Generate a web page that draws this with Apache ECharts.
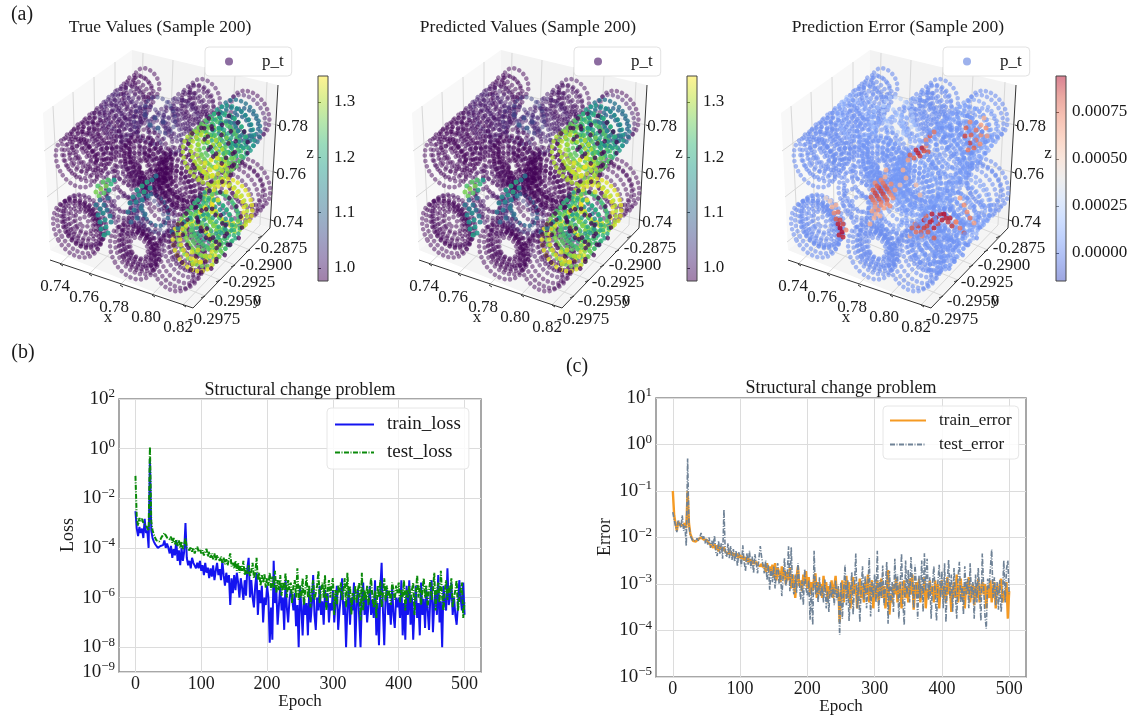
<!DOCTYPE html>
<html>
<head>
<meta charset="utf-8">
<title>Structural change problem</title>
<script src="https://cdn.jsdelivr.net/npm/echarts@6/dist/echarts.min.js"></script>
<style>
  html, body { margin: 0; background: #fff; }
  #chart { width: 1135px; height: 719px; }
</style>
</head>
<body>
<div id="chart"></div>
<script>
// epochs of the two training curves
var epochText = "0 2 4 6 8 10 12 14 16 18 20 22 24 26 28 30 32 34 36 38 40 42 44 46 48 50 52 54 56 58 60 62 64 66 68 70 72 74 76 78 80 82 84 86 88 90 92 94 96 98 100 102 104 106 108 110 112 114 116 118 120 122 124 126 128 130 132 134 136 138 140 142 144 146 148 150 152 154 156 158 160 162 164 166 168 170 172 174 176 178 180 182 184 186 188 190 192 194 196 198 200 202 204 206 208 210 212 214 216 218 220 222 224 226 228 230 232 234 236 238 240 242 244 246 248 250 252 254 256 258 260 262 264 266 268 270 272 274 276 278 280 282 284 286 288 290 292 294 296 298 300 302 304 306 308 310 312 314 316 318 320 322 324 326 328 330 332 334 336 338 340 342 344 346 348 350 352 354 356 358 360 362 364 366 368 370 372 374 376 378 380 382 384 386 388 390 392 394 396 398 400 402 404 406 408 410 412 414 416 418 420 422 424 426 428 430 432 434 436 438 440 442 444 446 448 450 452 454 456 458 460 462 464 466 468 470 472 474 476 478 480 482 484 486 488 490 492 494 496 498 500";
var epochs = epochText.split(" ").map(Number);

var trainLoss = [3e-3,6e-4,3e-4,7e-4,4e-4,6e-4,2.5e-4,1.5e-3,4e-4,5e-4,1e-4,4e-1,5e-4,2.5e-4,1.8e-4,1.4e-4,1.2e-4,1e-4,1e-4,1.2e-4,1.4e-4,1.3e-4,2e-4,1e-4,1.5e-4,
  1e-4,6e-5,1.2e-4,4e-5,9e-5,5e-5,2e-4,3e-5,8e-5,2e-5,1e-4,3e-5,7e-5,1e-3,4e-5,2e-5,3e-5,1.5e-5,4e-5,2.5e-5,3e-5,1.5e-5,2.5e-5,1.5e-5,3e-5,
  1.2e-5,2e-5,8e-6,2.5e-5,1e-5,1.6e-5,6e-6,1.5e-5,7e-6,2e-5,5e-6,1.2e-5,2.5e-5,8e-6,1.4e-5,5e-6,3e-5,8e-6,3e-6,1e-5,4e-6,8e-6,5e-7,6e-6,1.5e-6,
  8e-6,2e-6,1e-5,4e-6,1e-6,6e-6,2.5e-6,8e-7,5e-6,1.2e-6,1.5e-5,4e-5,1e-6,5e-6,1e-6,4e-7,3e-6,1e-5,2e-7,2e-6,6e-7,3e-6,1e-7,1e-6,5e-7,
  3e-6,1e-6,1.5e-8,4e-7,2e-8,3e-5,6e-7,2e-6,8e-8,5e-7,3e-6,3e-7,1e-6,5e-8,5e-6,4e-7,1e-7,8e-7,2e-6,1e-6,3e-7,1.5e-6,7e-8,5e-7,1e-8,
  3e-6,4e-7,3e-8,1e-6,2e-7,6e-7,3e-8,2e-6,1e-7,5e-7,8e-6,2e-7,5e-8,1e-6,3e-7,3e-6,2e-7,7e-7,8e-8,2e-6,4e-7,1.5e-6,1e-7,6e-7,3e-7,
  2e-6,1e-7,6e-7,3e-6,5e-8,3e-7,1e-6,6e-6,2e-7,7e-7,1e-8,4e-7,2e-6,8e-8,1e-6,3e-7,4e-6,1e-8,5e-7,2e-6,1.5e-7,1e-8,8e-7,4e-6,2e-7,
  1e-6,1e-7,5e-7,3e-6,2e-7,8e-7,1.5e-7,5e-6,3e-8,6e-7,1.2e-8,2e-6,2.5e-5,3e-7,1.2e-8,1e-6,2e-6,2e-7,6e-7,8e-8,3e-6,2e-7,6e-8,1e-6,4e-7,
  1e-6,1.5e-7,5e-6,3e-8,6e-7,2e-8,3e-6,2e-7,5e-6,8e-8,1e-6,2e-8,4e-7,3e-6,1.5e-7,6e-7,3e-8,4e-6,2e-7,9e-7,6e-8,2e-6,3e-7,5e-8,1e-6,
  5e-6,4e-8,6e-7,2e-6,2e-7,8e-6,1e-7,7e-7,1e-8,3e-6,6e-7,3e-7,1.5e-5,5e-7,1e-6,4e-6,2e-7,1e-6,2e-7,8e-8,5e-7,5e-6,1e-6,3e-7,4e-6,2e-7];

var testLoss = [8e-2,1.5e-3,8e-4,1.6e-3,1.2e-3,1.5e-3,1e-3,1.2e-3,8e-4,9e-4,5e-4,1.2,1.2e-3,5e-4,3.5e-4,2.5e-4,2e-4,1.7e-4,1.8e-4,2.2e-4,2.8e-4,3e-4,4e-4,3.2e-4,2.6e-4,
  3e-4,2.2e-4,2.8e-4,1.6e-4,2.5e-4,1.4e-4,2.2e-4,1.2e-4,2e-4,1e-4,1.8e-4,9e-5,1.4e-4,2.5e-4,1e-4,1.2e-4,8e-5,1.1e-4,7e-5,1e-4,6e-5,9e-5,1.1e-4,7e-5,9e-5,
  6e-5,8e-5,5e-5,7e-5,9e-5,4.5e-5,7e-5,4e-5,6e-5,3.5e-5,6e-5,3e-5,5e-5,6e-5,3e-5,4.5e-5,2.5e-5,4e-5,2.2e-5,3.5e-5,2e-5,3.5e-5,6e-5,1.8e-5,2.5e-5,
  1.5e-5,3e-5,1.2e-5,2.5e-5,1e-5,2e-5,1.2e-5,3e-5,8e-6,1.5e-5,9e-6,2e-5,7e-6,1.2e-5,2.5e-5,6e-6,1e-5,4e-5,5e-6,1e-5,3e-6,8e-6,4e-6,9e-6,2.5e-6,
  6e-6,3e-6,1e-5,2e-6,7e-6,2.5e-6,1.2e-5,1.5e-6,5e-6,2e-6,8e-6,1.2e-6,4e-6,2e-6,1e-5,1e-6,5e-6,2e-6,4e-6,6e-7,3e-6,5e-6,1e-6,1.5e-5,8e-7,
  3e-6,1e-6,6e-6,5e-7,2e-6,8e-6,1e-6,3e-6,4e-7,2e-6,5e-6,8e-7,1.5e-6,3e-6,1.2e-5,6e-7,2e-6,4e-6,1e-6,8e-6,3e-7,2e-6,5e-6,1e-6,3e-6,
  6e-6,2e-7,2e-6,5e-7,3e-6,1.5e-6,4e-6,8e-7,2e-6,6e-6,4e-7,1e-5,1e-6,3e-6,2e-7,1.5e-6,8e-7,3e-6,6e-7,2e-6,4e-6,1.2e-7,1e-5,3e-7,2e-6,
  8e-7,3e-6,5e-7,2e-6,6e-6,1e-6,4e-7,2e-6,1.5e-7,3e-6,1e-6,5e-6,4e-7,1.5e-6,6e-6,7e-7,3e-6,1e-6,2e-6,5e-7,4e-6,2e-6,8e-7,3e-6,1.5e-6,
  4e-6,6e-7,2e-6,1e-6,5e-6,3e-7,2e-6,1e-6,3e-6,6e-7,2e-6,4e-6,2e-7,1.5e-6,8e-6,1e-6,3e-6,5e-7,2e-6,6e-6,1e-6,3e-6,4e-7,2e-6,5e-6,
  8e-7,2e-6,1e-5,3e-7,2e-6,4e-6,6e-7,1.2e-5,1e-6,3e-7,2e-6,5e-6,8e-7,3e-6,1.5e-6,6e-6,4e-7,1e-6,2e-6,5e-6,3e-7,8e-7,2e-6,4e-6,1.5e-7,7e-7];

var trainError = [.1,.03,.02,.014,.022,.019,.02,.018,.019,.02,.016,.1,.02,.012,.01,.0085,.008,.0082,.0085,.0092,.0095,.01,.0095,.009,.0085,
  .009,.008,.0085,.007,.0075,.006,.0072,.0055,.0068,.005,.0064,.0058,.0052,.0062,.005,.0055,.0044,.0052,.0042,.0048,.004,.0046,.0038,.0045,.0036,
  .0042,.0035,.004,.0032,.0038,.003,.0036,.0029,.0034,.0027,.0032,.0027,.003,.0026,.0028,.0024,.0027,.0023,.0026,.0018,.0028,.0019,.0024,.0015,.0026,
  .0014,.0028,.0012,.0022,.0018,.0011,.0024,.0013,.002,.001,.0018,.0012,.0022,.0008,.0016,.0011,.0005,.0014,.0024,.0009,.0012,.0007,.0016,.001,.0019,
  .0008,.0014,.0006,.0011,.0007,.0013,.0017,.0005,.0011,.0006,.001,.0005,.0015,.0007,.0011,.0004,.0009,.0006,.0012,.0005,.0009,.0015,.0005,.0008,.00015,
  .0006,.0012,.0004,.0009,.0015,.0005,.0011,.0003,.0008,.0014,.0006,.001,.0003,.0007,.0013,.0005,.0009,.0004,.0011,.0006,.0016,.0004,.0008,.0012,.0003,
  .0009,.0005,.0012,.0004,.0008,.0013,.0005,.0009,.0003,.0007,.002,.00022,.0006,.0004,.001,.0006,.0014,.0004,.0008,.0011,.0003,.0007,.0012,.0005,.0009,
  .0004,.0013,.0006,.0016,.00028,.0007,.0011,.0005,.0013,.0004,.0009,.0006,.0014,.0003,.0008,.0005,.0012,.0006,.0009,.0004,.0012,.0005,.001,.0003,.0008,
  .0012,.0005,.0009,.0004,.0014,.0006,.0009,.00025,.0007,.0011,.0005,.0016,.0004,.0008,.0013,.0005,.0009,.0003,.0011,.0006,.0014,.0004,.0008,.001,.00035,
  .0009,.0005,.0013,.0004,.0008,.0011,.0006,.001,.0003,.0009,.0005,.0012,.0004,.0008,.0011,.0003,.0009,.0006,.001,.0013,.0004,.0007,.00045,.0011,.00018,.0007];

var testError = [.035,.024,.018,.013,.024,.02,.016,.03,.014,.018,.0065,.5,.018,.011,.0095,.0085,.0078,.0085,.0095,.0085,.01,.0125,.0095,.0105,.0075,
  .0095,.007,.01,.006,.0085,.0065,.011,.0048,.004,.0085,.0045,.0075,.0035,.04,.0045,.0038,.0075,.0036,.0065,.0033,.0056,.003,.0052,.0024,.0048,
  .0038,.0024,.0068,.003,.0019,.0046,.0026,.0052,.0022,.0039,.0017,.0044,.0028,.0017,.0036,.0065,.0038,.0026,.0017,.0032,.0012,.0026,.00075,.0021,.0011,
  .0024,.0008,.0018,.0028,.001,.0017,.00055,.0014,.0036,.0009,.0015,.0065,.0007,.0062,.0009,.0006,.0016,.00065,.0028,.0011,.00045,.0012,.00035,.0021,.0008,
  .00055,.0012,.00017,.00085,.00013,.0052,.0006,.0011,.0004,.0014,.00055,.0009,.0004,.00125,.0003,.0007,.00025,.0011,.0005,.00085,.00035,.0012,.00045,.0009,.00008,
  .0011,.00018,.0007,.0026,.00035,.0012,.00016,.0006,.0018,.00022,.0009,.0045,.0003,.0011,.00015,.0008,.0024,.00045,.0015,.0003,.0009,.0036,.0002,.0011,.0005,
  .0016,.0004,.0052,.00025,.0012,.0005,.0025,.00035,.0009,.003,.00014,.0019,.0004,.0011,.00025,.0035,.0007,.0016,.00018,.0009,.0045,.0004,.00013,.0032,.0006,
  .002,.0004,.0038,.0012,.0003,.0026,.0009,.00018,.0015,.0005,.0032,.00025,.0046,.0007,.0035,.00045,.0014,.00018,.001,.0024,.0006,.00016,.0011,.0026,.0005,
  .0019,.0003,.0028,.00015,.0011,.0033,.0005,.0016,.00025,.0022,.0006,.00018,.0014,.003,.0004,.0009,.00022,.0024,.0006,.0013,.0003,.0028,.0005,.0011,.00018,
  .0016,.0004,.0022,.0007,.00016,.0045,.0009,.0002,.00011,.0013,.0008,.0021,.0055,.0005,.0014,.00035,.0011,.00028,.0012,.00025,.0006,.0032,.0004,.0021,.0032,.0006];

var lossTicks = [1e-9, 1e-8, 1e-6, 1e-4, 1e-2, 1, 100];
var errorTicks = [1e-5, 1e-4, 1e-3, 1e-2, 1e-1, 1, 10];
var epochTicks = [0, 100, 200, 300, 400, 500];

// rings of the point cloud, read in the projected plane: x, y, radius, p_t, error
var rings = [
  // back tubes
  [205,97,17,.99,2e-5],[198,104,18,.99,3e-5],[190,112,19,1.0,3e-5],[182,120,20,1.02,6e-5],[172,130,21,1.0,3e-5],
  [201,100,14,.99,2e-5],[194,108,15,.99,2e-5],[186,116,15,1.0,3e-5],[177,125,16,1.0,4e-5],[201,100,9,.99,1e-5],[194,108,10,.99,2e-5],[186,116,10,1.0,2e-5],[177,125,10,1.0,3e-5],
  [147,83,14,.98,2e-5],[140,92,16,.98,2e-5],[131,104,18,1.0,3e-5],[122,115,20,1.02,2e-4],[112,126,21,.99,5e-5],
  [102,136,22,.98,3e-5],[92,146,23,.98,3e-5],[83,156,24,.98,2e-5],[77,162,24,.98,2e-5],
  [142,88,11,.98,2e-5],[135,98,13,.98,2e-5],[127,110,15,1.0,2e-5],[117,120,16,1.0,1e-4],[107,131,17,.99,3e-5],[97,141,18,.98,2e-5],[88,151,18,.98,2e-5],[80,159,18,.98,2e-5],
  [80,159,12,.98,2e-5],[87,152,12,.98,2e-5],[97,141,12,.98,2e-5],[107,131,11,.98,2e-5],[117,120,10,1.0,5e-5],[127,110,9,1.0,2e-5],
  [136,98,17,.98,2e-5],[127,109,19,1.0,3e-5],[117,120,20,1.0,1e-4],[107,131,21,.99,3e-5],[97,141,22,.98,2e-5],[88,151,23,.98,2e-5],
  [150,125,18,1.03,2e-4],[160,115,17,1.05,2.5e-4],[165,135,19,1.02,1.5e-4],[155,140,20,1.0,1e-4],[135,135,18,.99,5e-5],
  [250,114,22,.98,2e-5],[246,118,22,1.0,3e-5],[246,123,14,1.1,4e-5],[240,128,12,1.1,5e-5],
  [249,184,24,.98,2e-5],[243,189,25,.98,2e-5],[237,194,25,.98,3e-5],[231,199,25,.99,5e-5],[246,186,19,.98,2e-5],
  // middle of the block
  [150,155,24,.98,4e-5],[146,162,25,.98,4e-5],[143,167,25,.98,4e-5],[143,167,20,.98,4e-5],[143,167,15,.98,3e-5],[143,168,10,.98,3e-5],[130,180,18,.98,3e-5],[128,170,15,.98,3e-5],
  [145,165,23,.98,4e-5],[144,166,18,.98,4e-5],[144,167,13,.98,4e-5],[144,167,7,.98,3e-5],[148,160,21,.98,4e-5],
  [120,195,22,.99,2e-5],[125,190,22,.99,3e-5],[120,195,16,.99,2e-5],[118,205,15,.99,2e-5],[128,215,18,1.0,3e-5],[150,215,22,1.0,4e-5],[155,210,22,1.02,5e-5],[150,215,16,1.05,6e-5],[155,210,15,1.1,8e-5],
  [185,175,26,.98,5e-5],[181,181,26,.98,5e-5],[177,187,26,.98,7e-5],[177,187,21,.98,6e-5],[177,187,16,.98,5e-5],[177,187,11,.98,4e-5],[177,187,6,.98,4e-5],[165,200,22,.98,4e-5],[160,190,20,.98,4e-5],[155,175,18,.98,4e-5],[160,165,15,.98,4e-5],
  [179,184,24,.98,6e-5],[178,186,19,.98,5e-5],[178,186,14,.98,5e-5],[178,187,9,.98,4e-5],[183,178,22,.98,5e-5],[174,192,22,.98,5e-5],
  // upper hot tube
  [240,124,23,1.12,6e-5],[233,131,24,1.18,8e-5],[226,138,24,1.22,8e-5],[219,145,25,1.25,7e-5],[212,152,25,1.27,6e-5],[205,158,25,1.3,6e-5],
  [236,127,18,1.14,6e-5],[229,134,18,1.2,6e-5],[222,141,18,1.24,6e-5],[215,148,19,1.27,5e-5],[208,155,19,1.31,5e-5],[229,134,12,1.15,5e-5],[222,141,12,1.2,5e-5],[215,148,13,1.25,5e-5],[208,155,13,1.3,4e-5],
  // front left disks
  [77,229,27,.98,2e-5],[80,226,26,.98,2e-5],[83,222,25,.98,2e-5],[85,220,24,.99,3e-5],[82,224,22,.98,2e-5],[82,224,20,.98,2e-5],[83,223,17,.98,2e-5],[83,223,15,.98,2e-5],[84,222,12,.98,2e-5],[84,222,10,.98,2e-5],[84,222,5,.98,2e-5],
  [133,252,26,.98,2e-5],[142,242,23,.99,2e-5],[137,248,25,.98,2e-5],[138,248,22,.98,2e-5],[137,248,20,.98,2e-5],[138,248,18,.98,2e-5],[138,248,16,.98,2e-5],[139,247,14,.98,2e-5],[139,247,12,.98,2e-5],[139,248,10,.98,2e-5],
  // front right disk
  [190,248,23,1.0,3e-5],[185,252,24,.99,2e-5],[181,257,25,.98,2e-5],[177,262,25,.98,2e-5],[172,266,24,.98,2e-5],[186,250,20,.98,2e-5],[190,246,17,.98,2e-5],[186,250,14,.98,2e-5],[190,244,11,.98,2e-5],
  // lower hot tube
  [232,203,23,1.33,6e-5],[226,207,24,1.3,7e-5],[218,217,25,1.2,8e-5],[212,224,25,1.22,7e-5],[205,232,25,1.24,6e-5],[199,240,25,1.27,6e-5],[194,246,24,1.33,5e-5],
  [228,204,18,1.33,5e-5],[222,212,18,1.24,6e-5],[215,220,19,1.2,6e-5],[208,228,19,1.24,5e-5],[202,236,19,1.28,5e-5],[196,243,18,1.33,4e-5],[215,220,13,1.16,5e-5],[208,228,13,1.2,5e-5],[202,236,13,1.25,4e-5]
];

// purple points lying sparsely over the hot tubes
var frontRings = [
  [226,140,25,.98,3e-5],[211,155,26,.98,3e-5],[219,218,26,.98,3e-5],[205,235,26,.98,3e-5],[195,246,25,.98,3e-5],[222,141,16,.98,3e-5],[212,225,16,.98,3e-5]
];

// single points of the high p_t patches: x, y, p_t
var hotTrue = [
  [98,186,1.24],[103,182,1.25],[108,180,1.24],[96,192,1.27],[101,189,1.28],[106,186,1.27],[111,184,1.22],[99,196,1.26],[104,193,1.25],[109,190,1.2],[114,180,1.18],
  [96,205,1.12],[100,209,1.14],[104,205,1.12],[98,215,1.15],[103,213,1.16],[107,210,1.12],[100,222,1.16],[105,220,1.17],[110,216,1.13],[101,229,1.18],[106,227,1.18],[111,222,1.14],[104,235,1.19],[108,233,1.17],[100,200,1.1],[108,198,1.1],
  [137,190,1.18],[142,186,1.2],[147,182,1.2],[133,197,1.16],[139,195,1.18],[144,192,1.2],[150,188,1.17],[130,203,1.14],[136,202,1.15],[142,200,1.14],[148,196,1.13],[128,212,1.12],[134,210,1.12],[141,208,1.13],[137,218,1.1],[145,214,1.11],[131,222,1.09],[152,180,1.14],[156,176,1.12],
  [150,125,1.08],[155,118,1.06],[145,115,1.05],[158,128,1.08],[163,122,1.05],
  [178,228,1.12],[184,222,1.15],[172,232,1.1],[190,218,1.18],
  [205,163,1.33],[211,160,1.34],[217,158,1.33],[222,165,1.34],[216,167,1.34],[210,170,1.33],[204,172,1.32],[200,178,1.3],[206,178,1.31],[212,176,1.33],[200,168,1.3],[195,170,1.28],
  [200,262,1.33],[195,258,1.33],[192,252,1.32],[198,250,1.32],[205,256,1.3],[193,264,1.31],[205,208,1.34],[212,205,1.34],[200,212,1.33],[218,200,1.33],[226,192,1.32],[236,196,1.3],[212,212,1.32]
];

// single points of the high error patches: x, y, error
var hotError = [
  [100,224,9e-4],[102,228,9.5e-4],[104,232,9.5e-4],[101,235,9e-4],[105,237,9e-4],[98,219,8e-4],[102,220,8.5e-4],[105,224,8.5e-4],[96,213,7e-4],[100,212,7.5e-4],[94,207,6e-4],[98,205,6e-4],[92,201,5e-4],[88,198,4.5e-4],[108,230,7e-4],
  [137,183,7e-4],[143,180,7e-4],[147,177,6e-4],[135,190,8e-4],[141,188,8.5e-4],[147,186,8e-4],[153,184,7e-4],[133,197,8e-4],[139,196,8.5e-4],[145,194,8.5e-4],[151,192,7.5e-4],[157,190,6.5e-4],[137,203,7e-4],[143,202,7.5e-4],[149,200,8e-4],[155,198,7e-4],[134,211,6.5e-4],[140,210,7e-4],[146,208,6.5e-4],[152,206,7e-4],[136,218,6e-4],[142,216,6e-4],[132,224,6e-4],[148,170,6e-4],
  [139,186,8e-4],[145,183,7.5e-4],[137,193,8.5e-4],[143,191,8.5e-4],[149,189,8e-4],[135,200,7.5e-4],[141,199,8e-4],[147,197,8e-4],[153,195,7e-4],[137,207,6.5e-4],[143,205,7e-4],[149,204,7e-4],[138,214,6e-4],
  [174,228,8e-4],[180,226,8.5e-4],[186,228,8.5e-4],[192,222,9e-4],[186,220,9e-4],[178,232,7.5e-4],[190,232,8e-4],[196,228,9e-4],[198,218,9e-4],[204,220,9e-4],[210,222,8.5e-4],[194,214,9e-4],[202,214,9e-4],[208,218,9e-4],[184,236,7e-4],[196,238,8e-4],[172,236,6e-4],[214,226,8.5e-4],
  [177,224,7.5e-4],[183,232,8e-4],[189,226,8.5e-4],[195,220,9e-4],[200,224,8.5e-4],[206,214,9.5e-4],[212,218,9e-4],[188,216,8e-4],[218,222,8e-4],
  [172,155,8e-4],[178,150,9e-4],[184,148,9e-4],[190,152,8e-4],[176,158,8e-4],[182,156,8.5e-4],[188,146,7e-4],[192,136,8e-4],[196,132,7.5e-4],[188,140,7e-4],[180,153,9e-4],[186,151,8.5e-4],
  [228,128,8e-4],[233,135,8e-4],[238,130,7.5e-4],[243,135,7e-4],[248,128,7e-4],[232,143,8.5e-4],[238,140,7.5e-4],[227,136,8.5e-4],[246,118,6e-4],[243,125,6.5e-4],[232,122,7e-4],[236,148,8e-4],[242,144,7e-4],[230,150,7.5e-4],[249,136,6.5e-4],
  [222,198,6.5e-4],[226,205,7e-4],[229,212,7e-4],[232,218,7.5e-4],[236,223,6.5e-4],[218,222,7e-4],[222,228,7.5e-4],[226,233,8e-4],
  [165,170,6e-4],[168,178,6e-4],[162,185,5.5e-4],[170,160,6.5e-4],[178,185,5.5e-4],[182,195,5.5e-4]
];

// walls of the 3d box in the projected plane
var walls = [
  [[43,113],[132,50],[128,188],[50,250]],
  [[132,50],[278,85],[270,228],[128,188]],
  [[50,250],[128,188],[270,228],[193,308]]
];
var gridSegments = [
  [53,106,60,242],[73,92,77,228],[94,77,96,213],[115,62,115,198],
  [143,53,140,191],[173,60,168,199],[205,67,197,207],[235,75,228,216],[267,82,260,225],
  [44,151,130,89],[47,197,129,134],[49,242,128,180],
  [130,89,277,125],[129,134,274,172],[128,180,271,220],
  [60,264,137,191],[89,274,166,199],[120,285,197,207],[152,295,228,216],[183,305,260,225],
  [205,296,62,238],[220,280,77,222],[235,265,92,207],[250,250,107,192],[262,236,119,178]
];
var axisSegments = [
  [50,260,193,308],[193,308,270,228],[278,85,270,228],
  [60,264,63,266],[89,274,92,276],[120,285,123,287],[152,295,155,297],[183,305,186,307],
  [205,296,201,298],[220,280,216,282],[235,265,231,267],[250,250,246,252],[262,236,258,238],
  [277,125,280,126],[274,172,277,173],[271,220,274,221]
];
var axisTexts = [
  ["0.74",55,287],["0.76",84,298],["0.78",114,308],["0.80",146,318],["0.82",178,328],
  ["-0.2875",281,249],["-0.2900",266,266],["-0.2925",249,283],["-0.2950",235,302],["-0.2975",214,320],
  ["0.78",293,127],["0.76",291,175],["0.74",288,223],
  ["x",108,318],["y",257,300],["z",310,154]
];

var viridis = ["#440154","#482878","#3e4989","#31688e","#26828e","#1f9e89","#35b779","#6ece58","#b5de2b","#fde725"];
var coolwarm = ["#3b4cc0","#5977e3","#7b9ff9","#9ebeff","#c0d4f5","#dddcdc","#f2cbb7","#f7ac8e","#ee8468","#d65244","#b40426"];
var serif = "Liberation Serif";

function renderWall(params, api) {
  var pts = walls[params.dataIndex].map(function (p) { return api.coord(p); });
  var fill = ["#f8f8f8", "#f3f3f3", "#f5f5f5"][params.dataIndex];
  return { type: "polygon", shape: { points: pts }, style: { fill: fill } };
}
function renderSegment(color, width) {
  return function (params, api) {
    var a = api.coord([api.value(0), api.value(1)]);
    var b = api.coord([api.value(2), api.value(3)]);
    return { type: "line", shape: { x1: a[0], y1: a[1], x2: b[0], y2: b[1] }, style: { stroke: color, lineWidth: width } };
  };
}
function renderRing(gap, alpha, strongFrom) {
  return function (params, api) {
    var c = api.coord([api.value(0), api.value(1)]);
    var r = api.size([api.value(2), 0])[0];
    return {
      type: "ellipse",
      shape: { cx: c[0], cy: c[1], rx: r * 0.8, ry: r * 1.12 },
      rotation: 0.5,
      originX: c[0],
      originY: c[1],
      style: {
        fill: "none", stroke: api.visual("color"), lineWidth: 4.6, lineCap: "round", lineDash: [0.01, gap],
        opacity: api.value(3) > strongFrom ? 0.8 : alpha
      }
    };
  };
}
function renderText(params, api) {
  var row = axisTexts[params.dataIndex];
  var c = api.coord([row[1], row[2]]);
  return {
    type: "text",
    x: c[0],
    y: c[1],
    style: { text: row[0], fill: "#1a1a1a", font: "17px '" + serif + "'", textAlign: "center", textVerticalAlign: "middle" }
  };
}
function colorbarRender(colors) {
  return function (params, api) {
    var top = api.coord([0, api.value(1)]);
    var bottom = api.coord([0, api.value(2)]);
    var stops = colors.map(function (c, i) { return { offset: i / (colors.length - 1), color: c }; });
    return {
      type: "rect",
      shape: { x: params.coordSys.x, y: top[1], width: params.coordSys.width, height: bottom[1] - top[1] },
      style: { fill: new echarts.graphic.LinearGradient(0, 1, 0, 0, stops), opacity: 0.5 }
    };
  };
}

var grid = [], xAxis = [], yAxis = [], series = [], visualMap = [];

function addPanel(i, left, ringColumn, hotPoints, colors, vmin, vmax, ringAlpha, hotAlpha, strongFrom) {
  grid.push({ left: left, top: 0, width: 300, height: 330 });
  xAxis.push({ gridIndex: i, type: "value", min: 0, max: 300, show: false });
  yAxis.push({ gridIndex: i, type: "value", min: 0, max: 330, inverse: true, show: false });
  var base = { xAxisIndex: i, yAxisIndex: i, silent: true };
  function s(o) { return Object.assign({}, base, o); }
  series.push(s({ type: "custom", data: walls.map(function (w, k) { return [k]; }), renderItem: renderWall, z: 1 }));
  series.push(s({ type: "custom", data: gridSegments, renderItem: renderSegment("#d8d8d8", 1), z: 1 }));
  series.push(s({ type: "custom", data: axisSegments, renderItem: renderSegment("#333", 1), z: 1 }));
  series.push(s({ type: "custom", data: axisTexts.map(function (w, k) { return [k]; }), renderItem: renderText, z: 1 }));
  var first = series.length;
  var ringData = rings.map(function (r) { return [r[0], r[1], r[2], r[ringColumn]]; });
  var frontData = frontRings.map(function (r) { return [r[0], r[1], r[2], r[ringColumn]]; });
  series.push(s({ type: "custom", name: "p_t", data: ringData, renderItem: renderRing(5.4, ringAlpha, strongFrom), z: 2 }));
  series.push(s({ type: "scatter", name: "p_t", data: hotPoints.map(function (p) { return [p[0], p[1], 0, p[2]]; }), symbolSize: 5, itemStyle: { opacity: hotAlpha }, z: 3 }));
  series.push(s({ type: "custom", name: "p_t", data: frontData, renderItem: renderRing(11, 0.75, strongFrom), z: 4 }));
  visualMap.push({ show: false, type: "continuous", seriesIndex: [first, first + 1, first + 2], dimension: 3, min: vmin, max: vmax, inRange: { color: colors } });
}

function addColorbar(i, left, colors, lo, hi, ticks, digits) {
  grid.push({ show: true, left: left, top: 76, width: 10, height: 205, borderColor: "#444", borderWidth: 1, z: 5 });
  xAxis.push({ gridIndex: i, type: "value", min: 0, max: 1, show: false });
  yAxis.push({
    gridIndex: i, type: "value", min: lo, max: hi, position: "right",
    axisLine: { show: false },
    axisTick: { show: true, length: 3, customValues: ticks, lineStyle: { color: "#333" } },
    splitLine: { show: false },
    axisLabel: { customValues: ticks, margin: 6, fontFamily: serif, fontSize: 17, color: "#1a1a1a", formatter: function (v) { return Number(v).toFixed(digits); } }
  });
  series.push({ type: "custom", xAxisIndex: i, yAxisIndex: i, silent: true, data: [[0, hi, lo]], renderItem: colorbarRender(colors), z: 1 });
}

function addCurvePanel(i, box, yExtent, yTicks, labelMargin) {
  grid.push(Object.assign({ show: true, borderColor: "#8a8a8a", borderWidth: 1.5 }, box));
  xAxis.push({
    gridIndex: i, type: "value", min: -25, max: 525,
    axisLine: { show: false },
    axisTick: { show: false, customValues: epochTicks },
    splitLine: { show: true, lineStyle: { color: "#dcdcdc", width: 1 } },
    axisLabel: { customValues: epochTicks, margin: labelMargin, fontFamily: serif, fontSize: 18, color: "#1a1a1a" }
  });
  yAxis.push({
    gridIndex: i, type: "log", logBase: 10, min: yExtent[0], max: yExtent[1],
    axisLine: { show: false },
    axisTick: { show: false, customValues: yTicks },
    splitLine: { show: true, lineStyle: { color: "#dcdcdc", width: 1 } },
    minorTick: { show: false },
    axisLabel: {
      customValues: yTicks, margin: 4, fontFamily: serif, fontSize: 19, color: "#1a1a1a",
      formatter: function (v) {
        return "10{s|" + String(Math.round(Math.log10(v))).replace("-", "\u2212") + "}";
      },
      rich: { s: { fontFamily: serif, fontSize: 13, color: "#1a1a1a", padding: [0, 0, 10, 0] } }
    }
  });
}

function curve(i, name, values, color, dash, width) {
  series.push({
    type: "line", name: name, xAxisIndex: i, yAxisIndex: i, symbol: "none", silent: true,
    data: epochs.map(function (e, k) { return [e, values[k]]; }),
    lineStyle: { color: color, width: width, type: dash },
    itemStyle: { color: color }
  });
}

addPanel(0, 0, 3, hotTrue, viridis, 0.9765, 1.347, 0.5, 0.85, 1.08);
addPanel(1, 369, 3, hotTrue, viridis, 0.9765, 1.347, 0.5, 0.85, 1.08);
addPanel(2, 738, 4, hotError, coolwarm, -1.49e-4, 9.4e-4, 0.6, 0.8, 1);
addColorbar(3, 318, viridis, 0.9765, 1.347, [1.0, 1.1, 1.2, 1.3], 1);
addColorbar(4, 687, viridis, 0.9765, 1.347, [1.0, 1.1, 1.2, 1.3], 1);
addColorbar(5, 1056, coolwarm, -1.49e-4, 9.4e-4, [0, 0.00025, 0.0005, 0.00075], 5);
addCurvePanel(6, { left: 119, top: 399, width: 362, height: 273 }, [1e-9, 1e2], lossTicks, 3);
addCurvePanel(7, { left: 656, top: 398, width: 370, height: 279 }, [1e-5, 1e1], errorTicks, 3);
curve(6, "train_loss", trainLoss, "#1414f0", "solid", 2);
curve(6, "test_loss", testLoss, "#0a8a0a", [5, 1.5, 1, 1.5], 2);
curve(7, "train_error", trainError, "#f59a23", "solid", 2.4);
curve(7, "test_error", testError, "#6f8296", [5, 1.5, 1, 1.5], 1.6);

function pointLegend(left, color) {
  return {
    left: left, top: 47, padding: [6, 8, 6, 20], selectedMode: false,
    itemWidth: 36, itemHeight: 8, itemGap: 0, icon: "circle",
    backgroundColor: "#fff", borderColor: "#e2e2e2", borderWidth: 1, borderRadius: 4,
    data: [{ name: "p_t", itemStyle: { color: color } }],
    textStyle: { fontFamily: serif, fontSize: 17, color: "#1a1a1a", padding: [0, 0, 0, 10] }
  };
}
function lineLegend(left, top, names, size, gap, pad, width) {
  return {
    left: left, top: top, orient: "vertical", selectedMode: false, padding: pad, itemGap: gap,
    itemWidth: width, itemHeight: 12, itemStyle: { opacity: 0 },
    backgroundColor: "rgba(255,255,255,0.85)", borderColor: "#e6e6e6", borderWidth: 1, borderRadius: 4,
    data: names, textStyle: { fontFamily: serif, fontSize: size, color: "#1a1a1a", padding: [0, 0, 0, 8] }
  };
}

function caption(text, x, y, size) {
  return { text: text, left: x, top: y, textAlign: "center", textVerticalAlign: "middle", padding: 0, textStyle: { fontFamily: serif, fontWeight: "normal", fontSize: size, color: "#1a1a1a" } };
}

var chart = echarts.init(document.getElementById("chart"), null, { renderer: "canvas" });
chart.setOption({
  animation: false,
  backgroundColor: "#fff",
  title: [
    caption("(a)", 22, 15, 20), caption("(b)", 23, 353, 20), caption("(c)", 577, 367, 20),
    caption("True Values (Sample 200)", 160, 27, 17.5),
    caption("Predicted Values (Sample 200)", 528, 27, 17.5),
    caption("Prediction Error (Sample 200)", 898, 27, 17.5),
    caption("Structural change problem", 300, 390, 18),
    caption("Structural change problem", 841, 388, 18),
    caption("Epoch", 300, 702, 17),
    caption("Epoch", 841, 707, 17)
  ],
  graphic: [
    { type: "text", x: 68, y: 535, rotation: Math.PI / 2, style: { text: "Loss", font: "18px '" + serif + "'", fill: "#1a1a1a", textAlign: "center", textVerticalAlign: "middle" } },
    { type: "text", x: 605, y: 537, rotation: Math.PI / 2, style: { text: "Error", font: "18px '" + serif + "'", fill: "#1a1a1a", textAlign: "center", textVerticalAlign: "middle" } }
  ],
  legend: [
    pointLegend(205, "#8c6ca0"), pointLegend(574, "#8c6ca0"), pointLegend(943, "#9db1ec"),
    lineLegend(327, 408, ["train_loss", "test_loss"], 19, 9, [7, 8, 7, 7], 39),
    lineLegend(883, 406, ["train_error", "test_error"], 17, 7, [6, 7, 6, 6], 36)
  ],
  grid: grid,
  xAxis: xAxis,
  yAxis: yAxis,
  visualMap: visualMap,
  series: series
});
</script>
</body>
</html>
